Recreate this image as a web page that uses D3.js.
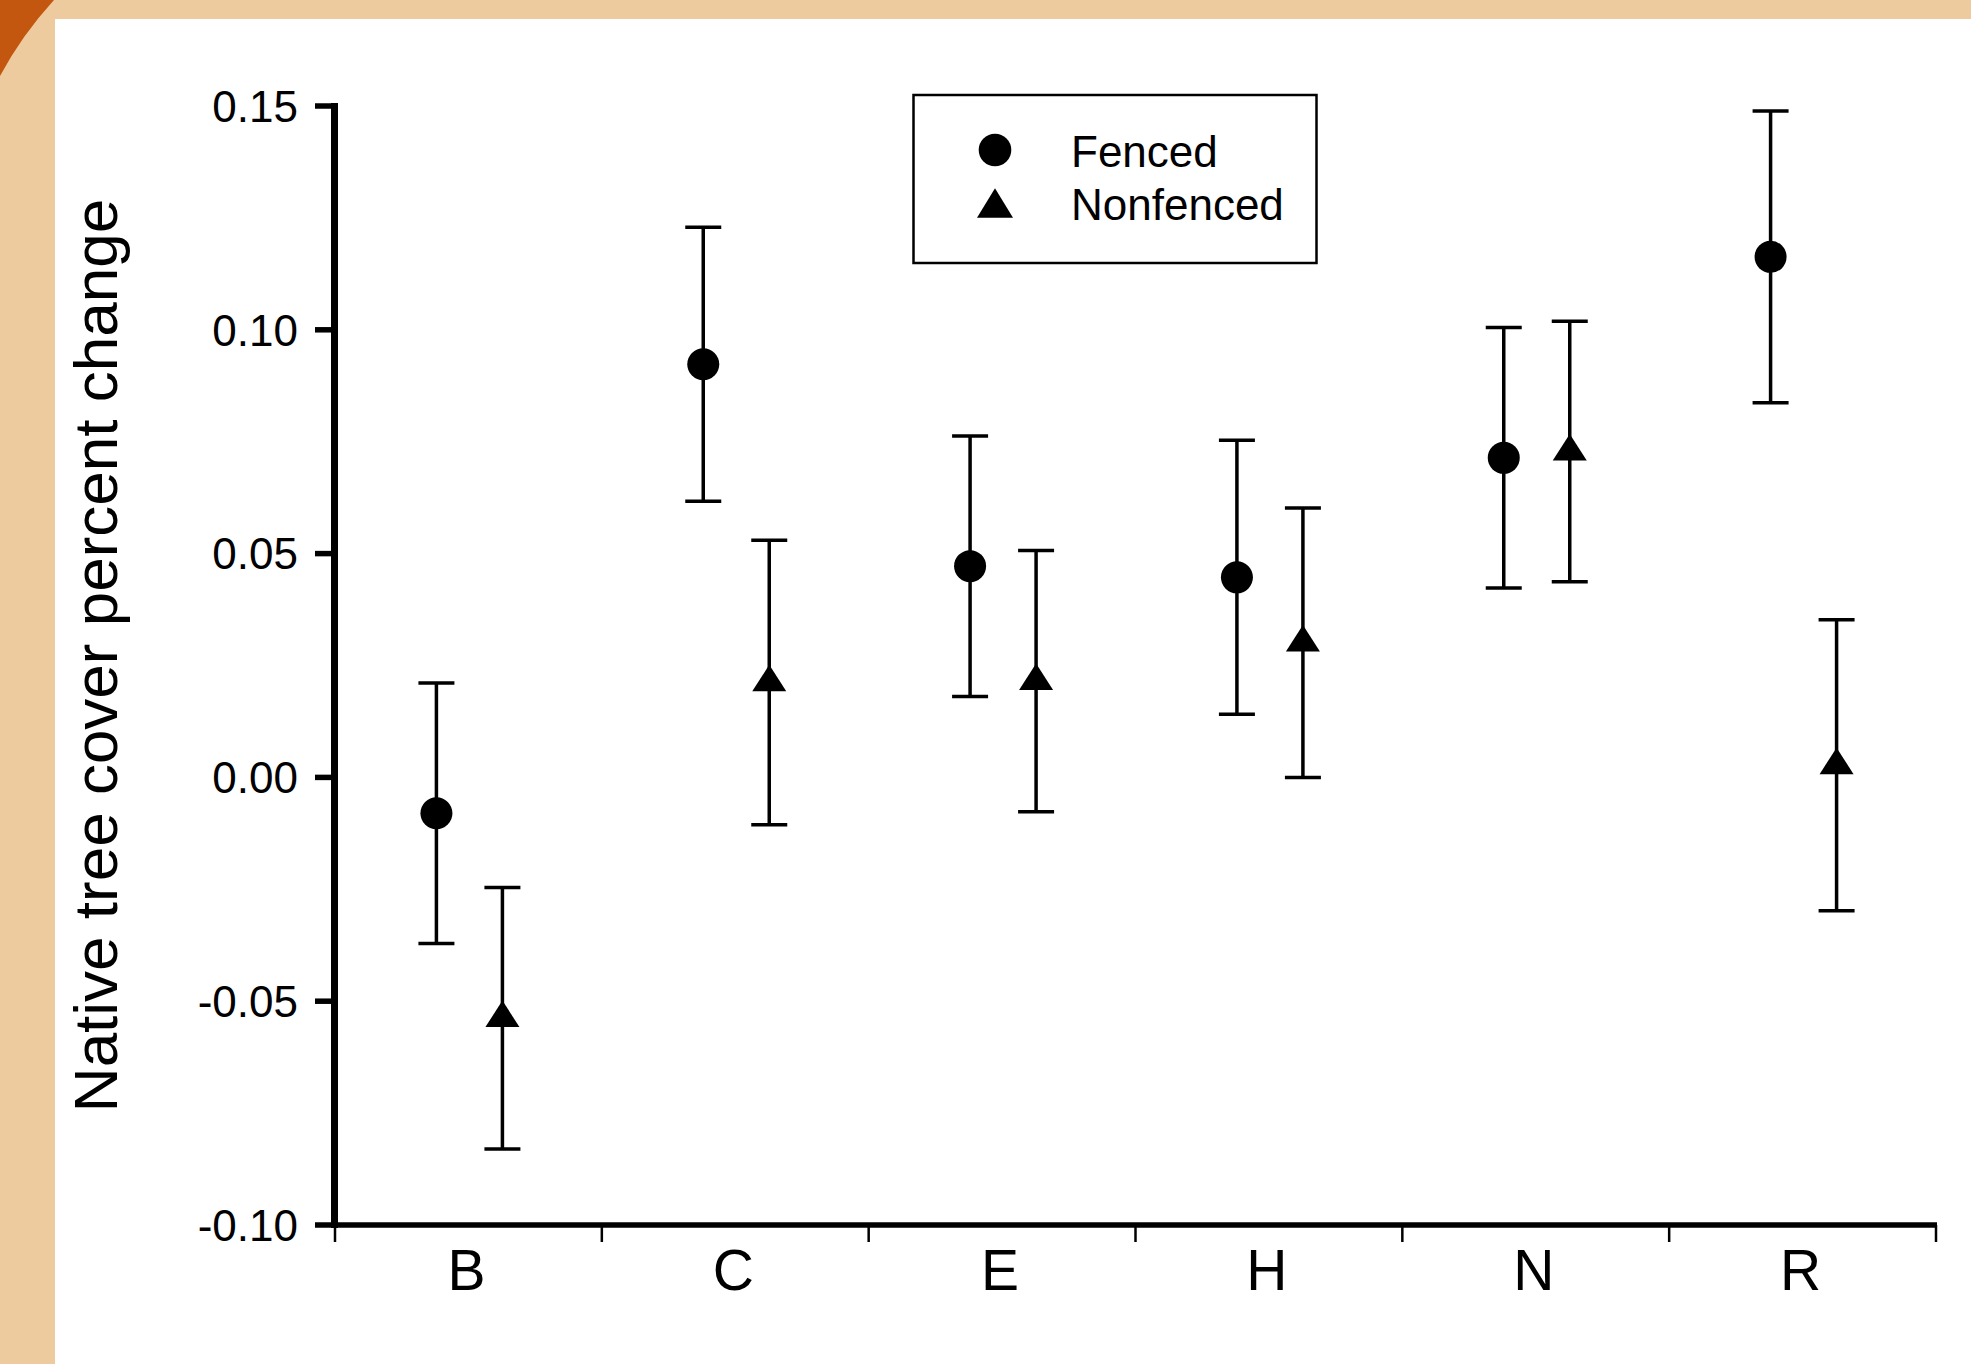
<!DOCTYPE html>
<html>
<head>
<meta charset="utf-8">
<script src="https://cdn.jsdelivr.net/npm/d3@7"></script>
<style>
  html, body { margin: 0; padding: 0; background: #EDCB9E; }
  svg { display: block; }
  text { font-family: "Liberation Sans", Arial, sans-serif; fill: #000; }
</style>
</head>
<body>
<svg id="chart" width="1971" height="1364"></svg>
<script>
// ---- data ----
const categories = ["B", "C", "E", "H", "N", "R"];
const seriesNames = ["Fenced", "Nonfenced"];
const fencedMean = [-0.0080, 0.0923, 0.0472, 0.0447, 0.0714, 0.1163];
const fencedErr = [0.0291, 0.0306, 0.0291, 0.0306, 0.0291, 0.0326];
const nonfencedMean = [-0.0538, 0.0212, 0.0215, 0.0301, 0.0728, 0.0027];
const nonfencedErr = [0.0292, 0.0318, 0.0292, 0.0301, 0.0291, 0.0325];
const yTicks = [-0.10, -0.05, 0.00, 0.05, 0.10, 0.15];
const yTitle = "Native tree cover percent change";

const W = 1971, H = 1364;
const svg = d3.select("#chart");

// background frame
svg.append("rect").attr("x", 0).attr("y", 0).attr("width", W).attr("height", H).attr("fill", "#EDCB9E");
svg.append("path").attr("d", "M0,0 H54 Q22,35 0,76 Z").attr("fill", "#C4570F");
svg.append("rect").attr("x", 55).attr("y", 19).attr("width", W - 55).attr("height", H - 19).attr("fill", "#FFFFFF");

// scales
const x0 = 335, x1 = 1936, yTop = 106, yBot = 1225;
const x = d3.scaleBand().domain(categories).range([x0, x1]).padding(0);
const y = d3.scaleLinear().domain([-0.10, 0.15]).range([yBot, yTop]);
const offset = d3.scaleOrdinal().domain(seriesNames).range([-32, 34]);

const points = [];
categories.forEach((c, i) => {
  points.push({ cat: c, series: "Fenced", mean: fencedMean[i], err: fencedErr[i] });
  points.push({ cat: c, series: "Nonfenced", mean: nonfencedMean[i], err: nonfencedErr[i] });
});
const px = d => x(d.cat) + x.bandwidth() / 2 + offset(d.series);

// y axis
const yAxis = svg.append("g");
yAxis.append("line").attr("x1", x0 - 0.5).attr("x2", x0 - 0.5)
  .attr("y1", y(0.15) - 3).attr("y2", y(-0.10) + 3)
  .attr("stroke", "#000").attr("stroke-width", 7);
yAxis.selectAll("line.tick").data(yTicks).join("line").attr("class", "tick")
  .attr("x1", 315).attr("x2", x0 - 2)
  .attr("y1", d => y(d)).attr("y2", d => y(d))
  .attr("stroke", "#000").attr("stroke-width", 5.5);
yAxis.selectAll("text").data(yTicks).join("text")
  .attr("x", 298).attr("y", d => y(d)).attr("dy", "0.36em")
  .attr("text-anchor", "end").attr("font-size", 44)
  .text(d => d.toFixed(2));

// x axis
const xAxis = svg.append("g");
xAxis.append("line").attr("x1", x0 - 4).attr("x2", x1 + 1)
  .attr("y1", yBot).attr("y2", yBot)
  .attr("stroke", "#000").attr("stroke-width", 5.5);
const xTickPos = categories.map(c => x(c)).concat([x.range()[1]]);
xAxis.selectAll("line.tick").data(xTickPos).join("line").attr("class", "tick")
  .attr("x1", d => d).attr("x2", d => d)
  .attr("y1", yBot).attr("y2", yBot + 17)
  .attr("stroke", "#000").attr("stroke-width", 2.5);
xAxis.selectAll("text").data(categories).join("text")
  .attr("x", d => x(d) + x.bandwidth() / 2 - 2).attr("y", 1290)
  .attr("text-anchor", "middle").attr("font-size", 57)
  .text(d => d);

// y title
svg.append("text")
  .attr("transform", `translate(117, ${(yTop + yBot) / 2 - 10}) rotate(-90)`)
  .attr("text-anchor", "middle").attr("font-size", 62)
  .text(yTitle);

// error bars
const cap = 18;
const eb = svg.append("g").attr("stroke", "#000").attr("stroke-width", 3.5);
points.forEach(d => {
  const cx = px(d);
  eb.append("line").attr("x1", cx).attr("x2", cx).attr("y1", y(d.mean + d.err)).attr("y2", y(d.mean - d.err));
  eb.append("line").attr("x1", cx - cap).attr("x2", cx + cap).attr("y1", y(d.mean + d.err)).attr("y2", y(d.mean + d.err));
  eb.append("line").attr("x1", cx - cap).attr("x2", cx + cap).attr("y1", y(d.mean - d.err)).attr("y2", y(d.mean - d.err));
});

// markers
const triW = 34, triH = 26.5;
const triPath = `M0,${-2 * triH / 3} L${triW / 2},${triH / 3} L${-triW / 2},${triH / 3} Z`;
const mk = svg.append("g");
mk.selectAll("circle").data(points.filter(d => d.series === "Fenced")).join("circle")
  .attr("cx", px).attr("cy", d => y(d.mean)).attr("r", 16).attr("fill", "#000");
mk.selectAll("path").data(points.filter(d => d.series === "Nonfenced")).join("path")
  .attr("d", triPath)
  .attr("transform", d => `translate(${px(d)},${y(d.mean)})`).attr("fill", "#000");

// legend
const lg = svg.append("g");
lg.append("rect").attr("x", 913.5).attr("y", 95).attr("width", 403).attr("height", 168)
  .attr("fill", "#fff").attr("stroke", "#000").attr("stroke-width", 2.5);
lg.append("circle").attr("cx", 995).attr("cy", 150).attr("r", 16.3).attr("fill", "#000");
lg.append("path").attr("d", `M0,${-2 * triH / 3 - 2} L${triW / 2 + 1},${triH / 3 + 1} L${-triW / 2 - 1},${triH / 3 + 1} Z`)
  .attr("transform", "translate(995,208)").attr("fill", "#000");
lg.append("text").attr("x", 1071).attr("y", 167).attr("font-size", 44).text(seriesNames[0]);
lg.append("text").attr("x", 1071).attr("y", 220).attr("font-size", 44).text(seriesNames[1]);
</script>
</body>
</html>
